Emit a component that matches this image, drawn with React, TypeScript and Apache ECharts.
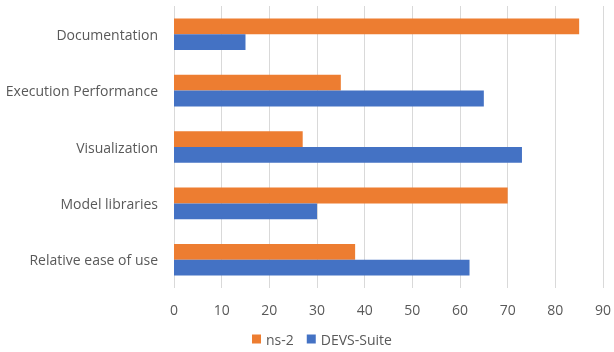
import React, { useEffect, useRef } from "react";
import * as echarts from "echarts";

const categories = ["Relative ease of use", "Model libraries", "Visualization", "Execution Performance", "Documentation"];
const ns2Values = [38, 70, 27, 35, 85];
const devsValues = [62, 30, 73, 65, 15];
const seriesNames = ["ns-2", "DEVS-Suite"];

export default function App() {
  const ref = useRef<HTMLDivElement>(null);
  useEffect(() => {
    if (!ref.current) return;
    const chart = echarts.init(ref.current, undefined, { renderer: "svg" });
    const font = "'Open Sans', 'Noto Sans', sans-serif";
    chart.setOption({
      animation: false,
      textStyle: { fontFamily: font },
      grid: { left: 174, right: 5, top: 6, bottom: 64, containLabel: false },
      legend: {
        data: seriesNames,
        bottom: 1,
        left: 247,
        itemWidth: 9,
        itemHeight: 9,
        itemGap: 13,
        icon: "rect",
        textStyle: { color: "#595959", fontSize: 14, fontFamily: font },
      },
      xAxis: {
        type: "value",
        min: 0,
        max: 90,
        interval: 10,
        axisLine: { show: false },
        axisTick: { show: false },
        axisLabel: { color: "#595959", fontSize: 14, margin: 14, fontFamily: font },
        splitLine: { show: true, lineStyle: { color: "#D9D9D9", width: 1 } },
      },
      yAxis: {
        type: "category",
        data: categories,
        axisLine: { show: false },
        axisTick: { show: false },
        axisLabel: { color: "#595959", fontSize: 14, margin: 16, fontFamily: font },
      },
      series: [
        {
          name: "ns-2",
          type: "bar",
          data: ns2Values,
          itemStyle: { color: "#ED7D31" },
          barGap: "0%",
          barCategoryGap: "44%",
        },
        {
          name: "DEVS-Suite",
          type: "bar",
          data: devsValues,
          itemStyle: { color: "#4472C4" },
          barGap: "0%",
          barCategoryGap: "44%",
        },
      ],
    });
    return () => chart.dispose();
  }, []);
  return <div ref={ref} style={{ position: "fixed", left: 0, top: 0, width: 614, height: 352 }} />;
}
